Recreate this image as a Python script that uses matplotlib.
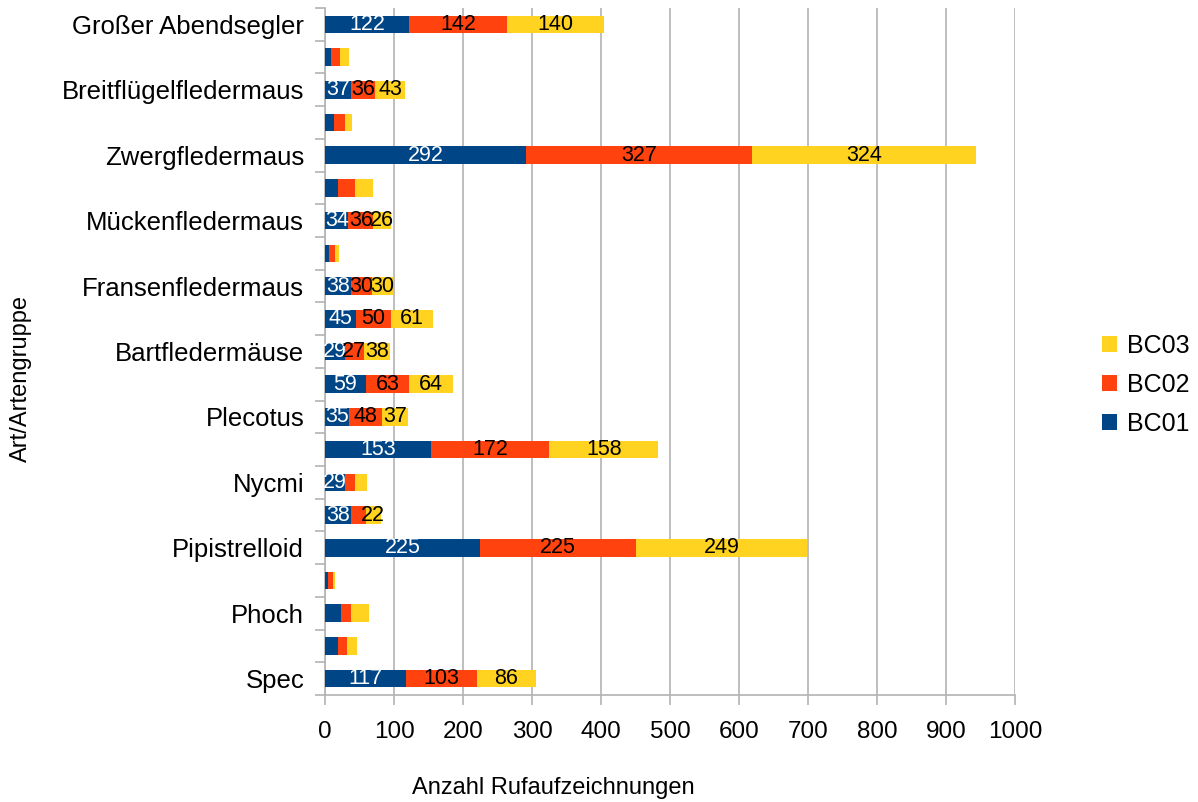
import numpy as np
import matplotlib.pyplot as plt
from matplotlib.patches import Patch

plt.rcParams['font.family'] = ['Liberation Sans', 'DejaVu Sans']

# === Data: call recordings per species / group and detector ===
arten = ["Großer Abendsegler", "", "Breitflügelfledermaus", "", "Zwergfledermaus", "",
         "Mückenfledermaus", "", "Fransenfledermaus", "", "Bartfledermäuse", "",
         "Plecotus", "", "Nycmi", "", "Pipistrelloid", "", "Phoch", "", "Spec"]
bc01 = [122, 9, 37, 13, 292, 19, 34, 6, 38, 45, 29, 59, 35, 153, 29, 38, 225, 4, 23, 19, 117]
bc02 = [142, 13, 36, 16, 327, 25, 36, 9, 30, 50, 27, 63, 48, 172, 15, 21, 225, 7, 14, 13, 103]
bc03 = [140, 13, 43, 10, 324, 25, 26, 6, 30, 61, 38, 64, 37, 158, 17, 22, 249, 4, 27, 14, 86]
series_names = ["BC01", "BC02", "BC03"]

# which value labels are shown (BC01, BC02, BC03) per row
label_on = [(1, 1, 1), (0, 0, 0), (1, 1, 1), (0, 0, 0), (1, 1, 1), (0, 0, 0), (1, 1, 1),
            (0, 0, 0), (1, 1, 1), (1, 1, 1), (1, 1, 1), (1, 1, 1), (1, 1, 1), (1, 1, 1),
            (1, 0, 0), (1, 0, 1), (1, 1, 1), (0, 0, 0), (0, 0, 0), (0, 0, 0), (1, 1, 1)]

colors = ["#004586", "#ff420e", "#ffd320"]
text_colors = ["white", "black", "black"]
grid_col = "#b3b3b3"

fig = plt.figure(figsize=(11.98, 8.02), dpi=100)
ax = fig.add_axes([325 / 1198, 1 - 695 / 802, 690 / 1198, 687 / 802])

y = np.arange(len(arten))
left = np.zeros(len(arten))
for s, (vals, col, tcol) in enumerate(zip([bc01, bc02, bc03], colors, text_colors)):
    vals = np.array(vals, dtype=float)
    ax.barh(y, vals, left=left, height=0.54, color=col, zorder=3)
    for i, v in enumerate(vals):
        if label_on[i][s]:
            ax.text(left[i] + v / 2, y[i], f"{int(v)}", ha='center', va='center',
                    color=tcol, fontsize=15.5, zorder=4)
    left += vals

ax.set_xlim(0, 1000)
ax.set_ylim(len(arten) - 0.5, -0.5)
ax.set_xticks(np.arange(0, 1001, 100))
ax.xaxis.grid(True, color=grid_col, linewidth=1.2, zorder=0)
ax.tick_params(axis='x', length=7, color=grid_col, width=1.2, labelsize=17.5, pad=12)

ax.set_yticks(y)
ax.set_yticklabels(arten, fontsize=18.5)
ax.tick_params(axis='y', which='major', length=0, pad=15)
ax.set_yticks(np.arange(-0.5, len(arten)), minor=True)
ax.tick_params(axis='y', which='minor', length=7, color=grid_col, width=1.2)

for side in ['top', 'right']:
    ax.spines[side].set_visible(False)
for side in ['left', 'bottom']:
    ax.spines[side].set_color(grid_col)
    ax.spines[side].set_linewidth(1.2)

fig.text(553 / 1198, 1 - 788 / 802, "Anzahl Rufaufzeichnungen", ha='center', va='center', fontsize=17)
fig.text(21 / 1198, 1 - 378 / 802, "Art/Artengruppe", ha='center', va='center',
         rotation=90, fontsize=17)

handles = [Patch(facecolor=c) for c in colors[::-1]]
fig.legend(handles, series_names[::-1], loc='center left',
           bbox_to_anchor=(1102 / 1198, 1 - 385 / 802), frameon=False, fontsize=18,
           borderaxespad=0, borderpad=0,
           handlelength=0.6, handleheight=0.6, handletextpad=0.4, labelspacing=0.6)

fig.savefig("out.png", dpi=100)
